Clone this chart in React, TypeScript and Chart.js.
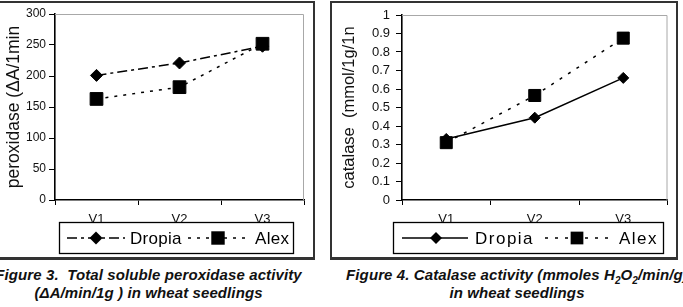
import React, { useEffect, useRef } from 'react';
import { Chart, registerables } from 'chart.js';

Chart.register(...registerables);

// ---------- data ----------
const categories = ['V1', 'V2', 'V3'];
const seriesNames = ['Dropia', 'Alex'];
const peroxidaseDropia = [201, 221, 248];
const peroxidaseAlex = [163, 182, 252];
const catalaseDropia = [0.33, 0.445, 0.66];
const catalaseAlex = [0.31, 0.565, 0.875];
const peroxidaseTicks = [0, 50, 100, 150, 200, 250, 300];
const catalaseTicks = [0, 0.1, 0.2, 0.3, 0.4, 0.5, 0.6, 0.7, 0.8, 0.9, 1];
const peroxidaseAxisTitle = 'peroxidase (ΔA/1min';
const catalaseAxisTitle = 'catalase  (mmol/1g/1n';

const FONT = '"Liberation Sans", Arial, sans-serif';

// gray frame on top / right of the plot area
const plotFrame = {
  id: 'plotFrame',
  beforeDatasetsDraw(chart: any, _a: any, opts: any) {
    const { ctx, chartArea: a } = chart;
    ctx.save();
    ctx.strokeStyle = opts.color || '#aaa';
    ctx.lineWidth = 1;
    ctx.beginPath();
    ctx.moveTo(a.left, a.top + 0.5);
    ctx.lineTo(a.right - 0.5, a.top + 0.5);
    ctx.lineTo(a.right - 0.5, a.bottom);
    ctx.stroke();
    ctx.restore();
  },
};

// boxed legend: line - marker - line, then label
const boxLegend = {
  id: 'boxLegend',
  afterDraw(chart: any, _a: any, opts: any) {
    const { ctx } = chart;
    const { box, items } = opts;
    if (!box) return;
    ctx.save();
    ctx.fillStyle = '#fff';
    ctx.fillRect(box.x, box.y, box.w, box.h);
    ctx.strokeStyle = '#000';
    ctx.lineWidth = 1.3;
    ctx.strokeRect(box.x + 0.5, box.y + 0.5, box.w, box.h);
    const cy = box.y + box.h / 2 + 0.5;
    chart.data.datasets.forEach((ds: any, i: number) => {
      const it = items[i];
      ctx.setLineDash(ds.borderDash || []);
      ctx.lineWidth = ds.borderWidth;
      ctx.strokeStyle = ds.borderColor;
      ctx.beginPath();
      ctx.moveTo(it.x0, cy);
      ctx.lineTo(it.x1, cy);
      ctx.stroke();
      ctx.setLineDash([]);
      ctx.fillStyle = ds.pointBackgroundColor;
      const r = ds.pointRadius + 0.5;
      ctx.beginPath();
      if (ds.pointStyle === 'rectRot') {
        ctx.moveTo(it.mx - r, cy);
        ctx.lineTo(it.mx, cy - r);
        ctx.lineTo(it.mx + r, cy);
        ctx.lineTo(it.mx, cy + r);
        ctx.closePath();
      } else {
        const s = r * Math.SQRT1_2;
        ctx.rect(it.mx - s, cy - s, 2 * s, 2 * s);
      }
      ctx.fill();
      (ctx as any).letterSpacing = opts.letterSpacing || '0px';
      ctx.fillStyle = '#000';
      ctx.font = `${opts.fontSize}px ${FONT}`;
      ctx.textBaseline = 'middle';
      ctx.textAlign = 'left';
      ctx.fillText(ds.label, it.tx, cy + 1);
      (ctx as any).letterSpacing = '0px';
    });
    ctx.restore();
  },
};

function makeConfig(p: {
  dropia: number[];
  alex: number[];
  dropiaDash: number[];
  alexDash: number[];
  tickValues: number[];
  title: string;
  titleSize: number;
  titlePad: number;
  yWidth: number;
  tickSize: number;
  tickPad: number;
  padTop: number;
  padRight: number;
  diamondR: number;
  squareR: number;
  legend: any;
}) {
  return {
    type: 'line' as const,
    data: {
      labels: categories,
      datasets: [
        {
          label: seriesNames[0],
          data: p.dropia,
          borderColor: '#000',
          borderWidth: 1.5,
          borderDash: p.dropiaDash,
          pointStyle: 'rectRot',
          pointRadius: p.diamondR,
          pointBackgroundColor: '#000',
          pointBorderColor: '#000',
          pointBorderWidth: 1,
          tension: 0,
          order: 1,
        },
        {
          label: seriesNames[1],
          data: p.alex,
          borderColor: '#000',
          borderWidth: 1.5,
          borderDash: p.alexDash,
          pointStyle: 'rect',
          pointRadius: p.squareR,
          pointBackgroundColor: '#000',
          pointBorderColor: '#000',
          pointBorderWidth: 1,
          tension: 0,
          order: 0,
        },
      ],
    },
    options: {
      animation: false as const,
      responsive: false,
      devicePixelRatio: 1,
      layout: { padding: { top: p.padTop, right: p.padRight, left: 0, bottom: 0 } },
      plugins: {
        legend: { display: false },
        tooltip: { enabled: false },
        plotFrame: { color: '#a8a8a8' },
        boxLegend: p.legend,
      },
      scales: {
        x: {
          offset: true,
          grid: {
            offset: true,
            drawOnChartArea: false,
            drawTicks: true,
            tickLength: 5,
            color: '#000',
          },
          border: { display: true, color: '#000', width: 1.6 },
          ticks: {
            color: '#111',
            padding: 7,
            font: { family: FONT, size: 13 },
            maxRotation: 0,
          },
          afterFit(scale: any) {
            scale.height = 58;
          },
        },
        y: {
          min: p.tickValues[0],
          max: p.tickValues[p.tickValues.length - 1],
          afterBuildTicks(scale: any) {
            scale.ticks = p.tickValues.map((v) => ({ value: v }));
          },
          ticks: {
            autoSkip: false,
            color: '#111',
            padding: p.tickPad,
            font: { family: FONT, size: p.tickSize },
            callback: (v: number) => String(v),
          },
          grid: {
            drawOnChartArea: false,
            drawTicks: true,
            tickLength: 6,
            color: '#000',
          },
          border: { display: true, color: '#000', width: 1.6 },
          title: {
            display: true,
            text: p.title,
            color: '#111',
            font: { family: FONT, size: p.titleSize },
            padding: { top: p.titlePad, bottom: 0 },
          },
          afterFit(scale: any) {
            scale.width = p.yWidth;
          },
        },
      },
    },
    plugins: [plotFrame, boxLegend],
  };
}

export default function App() {
  const leftRef = useRef<HTMLCanvasElement>(null);
  const rightRef = useRef<HTMLCanvasElement>(null);

  useEffect(() => {
    const c1 = new Chart(
      leftRef.current!,
      makeConfig({
        dropia: peroxidaseDropia,
        alex: peroxidaseAlex,
        dropiaDash: [10, 4, 3, 4],
        alexDash: [3, 6],
        tickValues: peroxidaseTicks,
        title: peroxidaseAxisTitle,
        titleSize: 17.5,
        titlePad: 3.5,
        yWidth: 55,
        tickSize: 12,
        tickPad: 3,
        padTop: 14,
        padRight: 0,
        diamondR: 6,
        squareR: 9,
        legend: {
          fontSize: 17,
          letterSpacing: '0.3px',
          box: { x: 59, y: 222, w: 234, h: 31 },
          items: [
            { x0: 67, x1: 125, mx: 96, tx: 130 },
            { x0: 188, x1: 247, mx: 218, tx: 255 },
          ],
        },
      }) as any
    );
    const c2 = new Chart(
      rightRef.current!,
      makeConfig({
        dropia: catalaseDropia,
        alex: catalaseAlex,
        dropiaDash: [],
        alexDash: [3, 7],
        tickValues: catalaseTicks,
        title: catalaseAxisTitle,
        titleSize: 16.5,
        titlePad: 8,
        yWidth: 70,
        tickSize: 13,
        tickPad: 6,
        padTop: 15,
        padRight: 3,
        diamondR: 5.5,
        squareR: 8.5,
        legend: {
          fontSize: 17,
          letterSpacing: '1.5px',
          box: { x: 61, y: 222, w: 270, h: 31 },
          items: [
            { x0: 70, x1: 136, mx: 104, tx: 143 },
            { x0: 213, x1: 278, mx: 245, tx: 287 },
          ],
        },
      }) as any
    );
    return () => {
      c1.destroy();
      c2.destroy();
    };
  }, []);

  const caption: React.CSSProperties = {
    position: 'absolute',
    width: 460,
    textAlign: 'center',
    whiteSpace: 'nowrap',
    fontFamily: FONT,
    fontWeight: 'bold',
    fontStyle: 'italic',
    fontSize: 15,
    letterSpacing: '0.1px',
    lineHeight: '18px',
    color: '#111',
  };

  return (
    <div
      style={{
        position: 'fixed',
        left: 0,
        top: 0,
        width: 683,
        height: 307,
        background: '#fff',
        overflow: 'hidden',
      }}
    >
      <div
        style={{
          position: 'absolute',
          left: -4,
          top: 1,
          width: 319,
          height: 259,
          boxSizing: 'border-box',
          border: '2px solid #333',
          borderBottom: '3px solid #333',
        }}
      />
      <div
        style={{
          position: 'absolute',
          left: 330,
          top: 1,
          width: 348,
          height: 259,
          boxSizing: 'border-box',
          border: '2px solid #333',
          borderBottom: '3px solid #333',
        }}
      />
      <canvas
        ref={leftRef}
        width={314}
        height={258}
        style={{ position: 'absolute', left: 0, top: 0, width: 314, height: 258 }}
      />
      <canvas
        ref={rightRef}
        width={345}
        height={258}
        style={{ position: 'absolute', left: 332, top: 0, width: 345, height: 258 }}
      />
      <div style={{ ...caption, left: 148.5 - 230, top: 266 }}>
        Figure 3.&nbsp; Total soluble peroxidase activity
        <br />
        (ΔA/min/1g ) in wheat seedlings
      </div>
      <div style={{ ...caption, left: 517 - 230, top: 266 }}>
        Figure 4. Catalase activity (mmoles H<sub style={{ fontSize: 10, lineHeight: 0 }}>2</sub>O
        <sub style={{ fontSize: 10, lineHeight: 0 }}>2</sub>/min/g)
        <br />
        in wheat seedlings
      </div>
    </div>
  );
}
